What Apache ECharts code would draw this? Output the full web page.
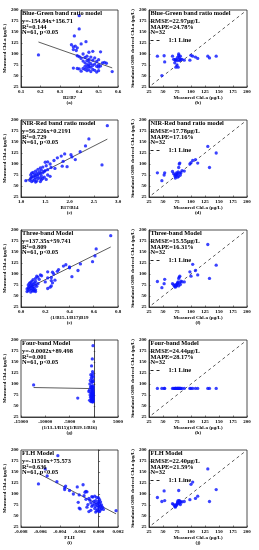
<!DOCTYPE html>
<html><head><meta charset="utf-8">
<script src="https://cdn.jsdelivr.net/npm/echarts@6/dist/echarts.min.js"></script>
<style>html,body{margin:0;padding:0;background:#fff}#c{width:259px;height:550px}</style>
</head><body><div id="c"></div>
<script>
// ---- calibration set (61 samples): measured Chl-a and model indices ----
const measured61 = [187,157,141,128,123,121,118,116,114,110,108,106,105,104,100,98,96,95,94,93,92,91,90,88,87,86,85,84,83,82,81,80,80,79,78,77,76,75,75,74,73,72,72,71,70,70,69,68,67,67,66,65,65,64,63,62,62,61,60,60,59];
const xBlueGreen = [0.40,0.40,0.375,0.435,0.41,0.36,0.38,0.37,0.39,0.37,0.385,0.47,0.51,0.45,0.42,0.19,0.39,0.44,0.40,0.46,0.43,0.48,0.41,0.45,0.50,0.47,0.44,0.42,0.49,0.45,0.53,0.52,0.43,0.54,0.46,0.48,0.44,0.50,0.45,0.47,0.51,0.43,0.49,0.45,0.46,0.50,0.44,0.37,0.39,0.42,0.40,0.43,0.47,0.45,0.48,0.44,0.50,0.41,0.57,0.46,0.49];
const xNirRed = [2.78,2.40,2.33,2.22,1.90,2.03,1.83,2.05,1.75,2.12,1.68,1.87,1.55,1.50,1.60,2.67,1.52,1.85,1.95,1.45,1.62,1.40,1.70,1.35,1.55,1.42,1.50,1.30,1.48,1.38,1.25,1.33,1.45,1.22,1.40,1.28,1.35,1.20,1.55,1.30,1.42,1.25,1.60,1.35,1.22,1.48,1.30,1.40,1.45,1.20,1.35,1.28,1.52,1.42,1.18,1.25,1.10,1.32,1.40,1.22,1.30];
const xThreeBand = [0.74,0.62,0.61,0.59,0.49,0.37,0.35,0.40,0.40,0.31,0.47,0.30,0.22,0.26,0.27,0.16,0.17,0.13,0.42,0.14,0.25,0.22,0.12,0.15,0.10,0.28,0.25,0.09,0.12,0.20,0.08,0.11,0.26,0.07,0.14,0.10,0.09,0.12,0.06,0.08,0.25,0.13,0.07,0.10,0.09,0.24,0.06,0.11,0.22,0.08,0.05,0.10,0.07,0.12,0.09,0.11,0.06,0.10,0.12,0.05,0.08];
const xFourBand = [-150,-300,-450,-250,-200,-600,-350,-100,-500,-250,-700,-150,-400,-300,-800,-12400,-200,-550,-350,-100,-650,-250,-450,-150,-300,-900,-200,-400,-1000,-100,-350,-250,-600,-150,-450,-300,-200,-750,-100,-350,-500,-250,-150,-400,-300,-650,-200,-3300,-350,-100,-550,-250,-450,-150,-850,-300,-200,-400,-100,-600,-250];
const xFLH = [-0.0042,-0.0055,-0.0053,-0.0043,-0.0062,-0.0016,-0.0034,-0.0022,-0.0035,-0.0035,-0.0030,-0.0013,-0.0012,-0.0014,-0.0026,-0.0020,-0.0015,-0.0004,-0.0007,-0.0006,-0.0002,0.0000,-0.0010,-0.0013,0.0001,-0.0009,-0.0003,0.0000,-0.0005,0.0002,-0.0021,-0.0008,0.0000,-0.0002,0.0001,-0.0004,-0.0011,0.0003,-0.0006,-0.0001,0.0002,-0.0003,-0.0007,0.0000,0.0004,-0.0012,0.0001,-0.0020,-0.0004,0.0003,-0.0019,0.0005,-0.0001,0.0002,-0.0008,0.0018,-0.0002,0.0000,-0.0010,0.0001,-0.0003];
// fit coefficients [slope, intercept]
const fitBlueGreen = [-154.84, 156.71];
const fitNirRed = [56.226, 0.2191];
const fitThreeBand = [137.35, 59.741];
const fitFourBand = [-0.0002, 89.498];
const fitFLH = [-11510, 75.573];

// ---- validation set (32 samples) ----
const measured32 = [40,48,52,53,67,69,71,72,72,73,74,75,76,76,77,78,78,79,80,80,81,82,84,88,98,100,103,108,112,130,133,145];
const simBlueGreen = [95,51,96,82,95,88,80,85,88,70,87,75,92,85,70,97,100,92,85,87,95,88,88,86,86,97,95,93,90,95,91,95];
const simNirRed = [80,62,75,80,83,78,75,72,68,75,80,76,70,78,82,72,92,100,102,80,75,80,85,84,100,103,108,110,102,140,92,125];
const simThreeBand = [83,69,78,88,78,75,72,70,74,76,73,75,78,80,82,73,90,93,95,80,76,84,82,82,105,95,122,108,98,167,90,120];
const simFourBand = [90,90,90,90,90,90,90,90,90,90,90,90,90,90,90,90,90,90,90,90,90,90,90,90,90,90,90,90,90,90,90,90];
const simFLH = [92,83,107,85,78,76,73,72,70,75,74,77,80,82,85,78,108,85,80,84,76,82,82,83,87,122,127,90,95,157,83,110];

// ---- axis ticks [min, max, interval, decimals] ----
const chlTicks = [25, 200, 25, 0];
const ticksA = [0.1, 0.6, 0.1, 1];
const ticksC = [1.0, 3.0, 0.5, 1];
const ticksE = [0.0, 0.8, 0.2, 1];
const ticksG = [-15000, 5000, 5000, 0];
const ticksI = [-0.008, 0.002, 0.002, 3];

// ---- texts ----
const xNamesLeft = ['B2/B7', 'B17/B14', '(1/B15-1/B17)B19', '(1/13-1/B15)(1/B19-1/B16)', 'FLH'];
const panelLetters = [['(a)','(b)'],['(c)','(d)'],['(e)','(f)'],['(g)','(h)'],['(i)','(j)']];
const modelNames = ['Blue-Green band ratio model','NIR-Red band ratio model','Three-band Model','Four-band Model','FLH Model'];
const fitTexts = [
  ['y=-154.84x+156.71','R²=0.144','N=61, p<0.05'],
  ['y=56.226x+0.2191','R²=0.729','N=61, p<0.05'],
  ['y=137.35x+59.741','R²=0.809','N=61, p<0.05'],
  ['y=-0.0002x+89.498','R²=0.001','N=61, p<0.05'],
  ['y=-11510x+75.573','R²=0.636','N=61, p<0.05']
];
const valTexts = [
  ['RMSE=22.97μg/L','MAPE=24.78%','N=32'],
  ['RMSE=17.78μg/L','MAPE=17.16%','N=32'],
  ['RMSE=15.55μg/L','MAPE=16.31%','N=32'],
  ['RMSE=24.44μg/L','MAPE=28.17%','N=32'],
  ['RMSE=22.40μg/L','MAPE=21.59%','N=32']
];
const oneToOne = [30, 195];

const xLeft = [xBlueGreen, xNirRed, xThreeBand, xFourBand, xFLH];
const fits = [fitBlueGreen, fitNirRed, fitThreeBand, fitFourBand, fitFLH];
const sims = [simBlueGreen, simNirRed, simThreeBand, simFourBand, simFLH];
const leftTickSets = [ticksA, ticksC, ticksE, ticksG, ticksI];

const FONT = 'Liberation Serif';
const BLUE = '#0a14ff';
const grids = [], xAxes = [], yAxes = [], series = [], titles = [], legends = [];
const txtStyle = (lh) => ({fontFamily: FONT, fontWeight: 'bold', fontSize: 6.4, lineHeight: lh, color: '#000'});

function axisBase(t, name, gap) {
  return {
    type: 'value', min: t[0], max: t[1], interval: t[2],
    name: name, nameLocation: 'middle', nameGap: gap,
    nameTextStyle: {fontFamily: FONT, fontWeight: 'bold', fontSize: 5, color: '#000', lineHeight: 4.8},
    axisLine: {show: true, lineStyle: {color: '#222', width: 0.8}},
    axisTick: {show: true, inside: true, length: 1.5, lineStyle: {color: '#222', width: 0.6}},
    axisLabel: {fontFamily: FONT, fontWeight: 'bold', fontSize: 5, color: '#000', margin: 2.5,
      formatter: v => Number(v).toFixed(t[3])},
    splitLine: {show: false}
  };
}

for (let r = 0; r < 5; r++) {
  const top = 10 + 110 * r;
  // left grid
  const gL = grids.length;
  grids.push({left: 21, top: top, width: 97, height: 77, show: true, borderColor: '#222', borderWidth: 0.8, backgroundColor: '#fff'});
  xAxes.push(Object.assign(axisBase(leftTickSets[r], xNamesLeft[r] + '\n' + panelLetters[r][0], 7.5), {gridIndex: gL}));
  yAxes.push(Object.assign(axisBase(chlTicks, 'Measured Chl-a (μg/L)', 10), {gridIndex: gL}));
  const xs = xLeft[r];
  series.push({type: 'scatter', xAxisIndex: gL, yAxisIndex: gL, symbol: 'circle', symbolSize: 3.3,
    itemStyle: {color: BLUE}, data: xs.map((x, i) => [x, measured61[i]]), z: 3});
  const xmin = Math.min(...xs), xmax = Math.max(...xs), f = fits[r];
  series.push({type: 'line', xAxisIndex: gL, yAxisIndex: gL, symbol: 'none', silent: true,
    lineStyle: {color: '#333', width: 0.8},
    data: [[xmin, f[0] * xmin + f[1]], [xmax, f[0] * xmax + f[1]]], z: 2});
  titles.push({text: modelNames[r], left: 22, top: top + 0.8, padding: 0, textStyle: txtStyle(5.8)});
  titles.push({text: fitTexts[r].join('\n'), left: 22, top: top + 8.4, padding: 0, textStyle: txtStyle(5.7)});

  // right grid
  const gR = grids.length;
  grids.push({left: 149, top: top, width: 98, height: 77, show: true, borderColor: '#222', borderWidth: 0.8, backgroundColor: '#fff'});
  xAxes.push(Object.assign(axisBase(chlTicks, 'Measured Chl-a (μg/L)\n' + panelLetters[r][1], 7.5), {gridIndex: gR}));
  yAxes.push(Object.assign(axisBase(chlTicks, 'Simulated OHS derived Chl-a (μg/L)', 10), {gridIndex: gR}));
  series.push({type: 'scatter', xAxisIndex: gR, yAxisIndex: gR, symbol: 'circle', symbolSize: 3.3,
    itemStyle: {color: BLUE}, data: measured32.map((m, i) => [m, sims[r][i]]), z: 3});
  series.push({type: 'line', name: '1:1 Line', xAxisIndex: gR, yAxisIndex: gR, symbol: 'none', silent: true,
    color: '#333', itemStyle: {color: '#333'},
    lineStyle: {color: '#333', width: 0.8, type: [3, 3]},
    data: [[oneToOne[0], oneToOne[0]], [oneToOne[1], oneToOne[1]]], z: 2});
  titles.push({text: modelNames[r], left: 150.5, top: top + 0.8, padding: 0, textStyle: txtStyle(5.8)});
  titles.push({text: valTexts[r].join('\n'), left: 150.5, top: top + 8.4, padding: 0, textStyle: txtStyle(5.7)});
  legends.push({data: ['1:1 Line'], left: 150.5, top: top + 27.6, padding: 0, itemGap: 0,
    icon: 'path://M0,0H3V1H0Z M6,0H9V1H6Z', itemWidth: 9, itemHeight: 1.1, selectedMode: false,
    itemStyle: {color: '#222'},
    textStyle: {fontFamily: FONT, fontWeight: 'bold', fontSize: 6.4, color: '#000', padding: [0,0,0,4]}});
}

const chart = echarts.init(document.getElementById('c'), null, {renderer: 'canvas'});
chart.setOption({
  backgroundColor: '#fff',
  animation: false,
  title: titles,
  legend: legends,
  grid: grids,
  xAxis: xAxes,
  yAxis: yAxes,
  series: series
});
</script>
</body></html>
